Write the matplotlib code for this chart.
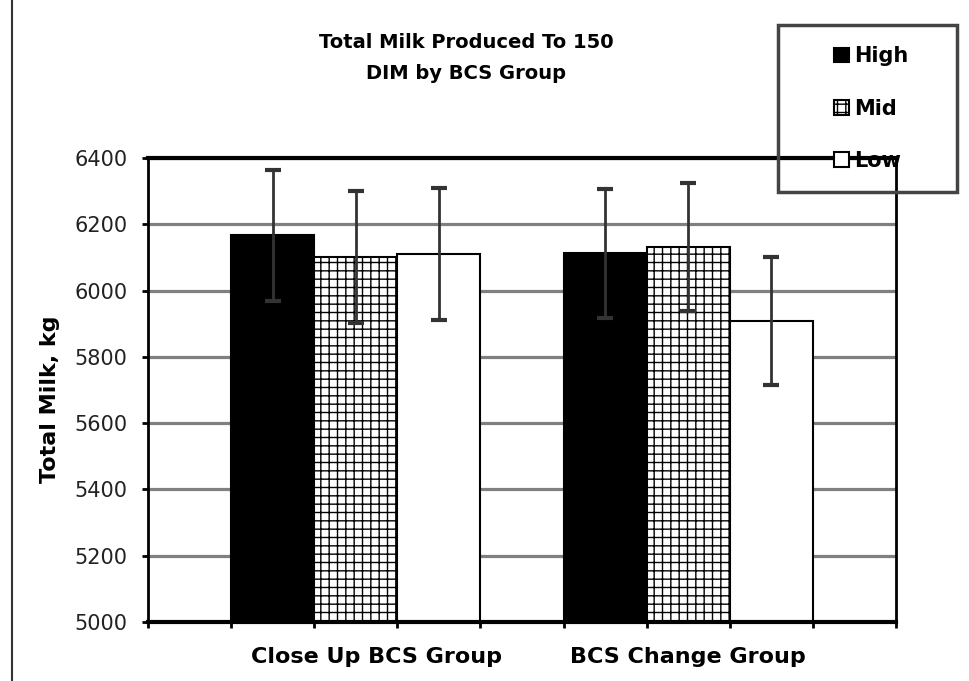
#Program to recreate the total milk bar chart with error bars
import matplotlib.pyplot as plt
from matplotlib.patches import Rectangle
from matplotlib.lines import Line2D

plt.rcParams['hatch.linewidth'] = 1.0

groups = ['Close Up BCS Group', 'BCS Change Group']
series = ['High', 'Mid', 'Low']
high = [6167, 6112]
mid = [6102, 6132]
low = [6110, 5908]
high_err = [198, 195]
mid_err = [199, 193]
low_err = [200, 193]
yticks = [5000, 5200, 5400, 5600, 5800, 6000, 6200, 6400]

fig = plt.figure(figsize=(9.69, 6.81), dpi=100)
ax = fig.add_axes([148/969, 1-622/681, 748/969, 464/681])

# bar slots: each group uses 3 unit-wide slots, with one empty slot around them
starts = [1, 5]
styles = [dict(color='black', edgecolor='black'),
          dict(color='white', edgecolor='black', hatch='++'),
          dict(color='white', edgecolor='black')]
values = [high, mid, low]
errors = [high_err, mid_err, low_err]
for i in range(3):
    xs = [s + i + 0.5 for s in starts]
    ax.bar(xs, values[i], width=1.0, linewidth=1.5, label=series[i], zorder=2, **styles[i])
    ax.errorbar(xs, values[i], yerr=errors[i], fmt='none', ecolor='#333333',
                elinewidth=2, capsize=6, capthick=3, zorder=3)

ax.set_xlim(0, 9)
ax.set_ylim(5000, 6400)
ax.set_yticks(yticks)
ax.set_yticklabels([str(v) for v in yticks], fontsize=15, color='#222222')
ax.set_xticks(range(10))
ax.set_xticklabels([])
ax.tick_params(axis='both', direction='out', length=4, width=2, pad=11)
ax.yaxis.grid(True, color='#808080', linewidth=2.3, zorder=0)
ax.set_axisbelow(True)
for side in ['left', 'right']:
    ax.spines[side].set_linewidth(2)
for side in ['top', 'bottom']:
    ax.spines[side].set_linewidth(3)

# category labels
ax.text(2.75, -0.075, groups[0], transform=ax.get_xaxis_transform(), ha='center', va='center',
        fontsize=16, fontweight='bold')
ax.text(6.5, -0.075, groups[1], transform=ax.get_xaxis_transform(), ha='center', va='center',
        fontsize=16, fontweight='bold')

fig.text(50/969, 1-399/681, 'Total Milk, kg', rotation=90, ha='center', va='center',
         fontsize=16, fontweight='bold')
fig.text(466/969, 1-58/681, 'Total Milk Produced To 150\nDIM by BCS Group', ha='center',
         va='center', fontsize=14, fontweight='bold', linespacing=1.85)

# legend with a separate frame drawn on the figure
leg = fig.legend(loc='upper left', bbox_to_anchor=(826/969, 1-38/681), frameon=False,
                 prop={'weight': 'bold', 'size': 15}, handlelength=0.7, handleheight=0.7,
                 handletextpad=0.25, labelspacing=1.55, borderaxespad=0)
fig.patches.append(Rectangle((778/969, 1-192/681), 179/969, 167/681, transform=fig.transFigure,
                             fill=False, edgecolor='#444444', linewidth=2.5))
fig.lines.append(Line2D([12/969, 12/969], [0, 1], transform=fig.transFigure, color='#333333',
                        linewidth=1.5))

plt.savefig('out.png', dpi=100)
